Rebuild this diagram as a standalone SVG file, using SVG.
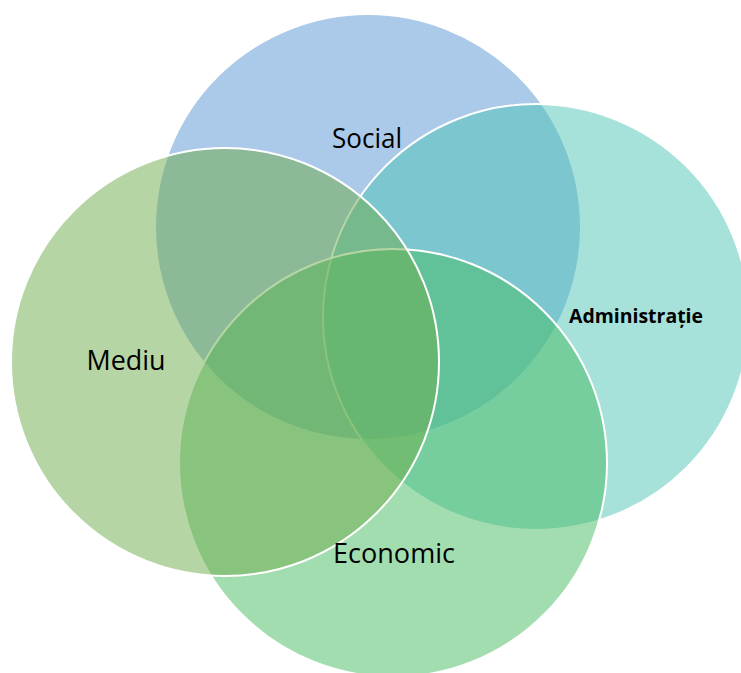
<svg xmlns="http://www.w3.org/2000/svg" width="741" height="673" viewBox="0 0 741 673">
<style>
.c{stroke:#fff;stroke-width:2;fill-opacity:0.5}
.t{font-family:"Open Sans","Liberation Sans",sans-serif;font-size:27px;fill:#000;text-anchor:middle}
.b{font-weight:bold;font-size:20px}
</style>
<rect width="741" height="673" fill="#fff"/>
<g id="social"><circle class="c" cx="368" cy="227" r="213" fill="#5793d1"/></g>
<g id="administratie"><circle class="c" cx="536" cy="317" r="213" fill="#4dc3b5"/></g>
<g id="economic"><circle class="c" cx="393" cy="463" r="214" fill="#45bb61"/></g>
<g id="mediu"><circle class="c" cx="225" cy="362" r="214" fill="#6dab49"/></g>
<g id="labels">
<text class="t" x="367" y="148" textLength="70" lengthAdjust="spacingAndGlyphs">Social</text>
<text class="t b" x="636" y="323" textLength="134" lengthAdjust="spacingAndGlyphs">Administrație</text>
<text class="t" x="126" y="370" textLength="79" lengthAdjust="spacingAndGlyphs">Mediu</text>
<text class="t" x="394" y="563" textLength="122" lengthAdjust="spacingAndGlyphs">Economic</text>
</g>
<g id="connectors"/>
</svg>
